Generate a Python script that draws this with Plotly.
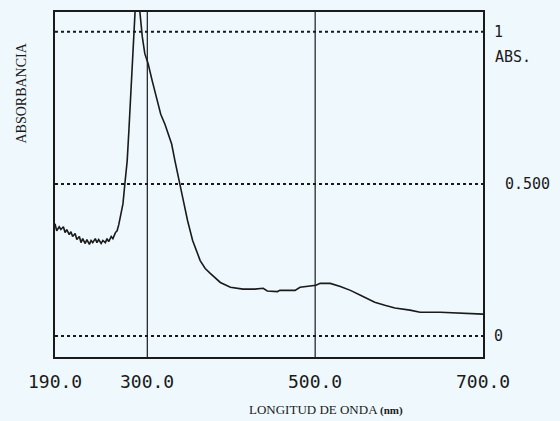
import plotly.graph_objects as go

# Spectrum data (wavelength nm, absorbance)
wavelength = [190, 192, 195, 197, 200, 202, 204, 207, 209, 211, 214, 216, 219, 221, 223, 226, 228, 231,
              233, 235, 238, 240, 242, 245, 247, 250, 252, 254, 257, 259, 262, 264, 266, 269, 271, 273,
              276, 278, 281, 283, 285, 287, 290, 294, 297, 301, 306, 312, 316, 321, 326, 329, 333, 337,
              339, 343, 348, 354, 363, 369, 375, 381, 387, 399, 414, 428, 438, 443, 455, 458, 476, 482,
              494, 501, 506, 518, 530, 542, 554, 563, 571, 583, 595, 613, 625, 649, 673, 685, 700]
absorbance = [0.369, 0.346, 0.359, 0.350, 0.359, 0.340, 0.350, 0.333, 0.343, 0.327, 0.337, 0.317, 0.327,
              0.307, 0.320, 0.304, 0.317, 0.301, 0.314, 0.307, 0.320, 0.307, 0.317, 0.304, 0.314, 0.307,
              0.320, 0.310, 0.327, 0.320, 0.340, 0.346, 0.366, 0.412, 0.435, 0.493, 0.575, 0.673, 0.837,
              0.984, 1.098, 1.150, 1.098, 0.984, 0.928, 0.895, 0.837, 0.771, 0.729, 0.696, 0.657, 0.631,
              0.575, 0.526, 0.493, 0.444, 0.379, 0.314, 0.248, 0.222, 0.206, 0.190, 0.176, 0.160, 0.154,
              0.154, 0.157, 0.148, 0.146, 0.150, 0.150, 0.160, 0.163, 0.167, 0.173, 0.173, 0.163, 0.150,
              0.134, 0.121, 0.111, 0.101, 0.092, 0.085, 0.078, 0.078, 0.075, 0.072, 0.072]

x_tick_vals = [190, 300, 500, 700]
x_tick_text = ["190.0", "300.0", "500.0", "700.0"]
grid_levels = [0, 0.5, 1]
vlines = [300, 500]

BG = "#eef8fd"
INK = "#1a1a1a"

fig = go.Figure()
fig.add_trace(go.Scatter(x=wavelength, y=absorbance, mode="lines",
                         line=dict(color=INK, width=1.6), hoverinfo="skip", showlegend=False))

for lv in grid_levels:
    fig.add_shape(type="line", xref="paper", x0=0, x1=1, yref="y", y0=lv, y1=lv,
                  line=dict(color=INK, width=2, dash="dot"), layer="below")
for v in vlines:
    fig.add_shape(type="line", xref="x", x0=v, x1=v, yref="paper", y0=0, y1=1,
                  line=dict(color=INK, width=1.2), layer="below")

mono = "DejaVu Sans Mono"
for v, t in zip(x_tick_vals, x_tick_text):
    fig.add_annotation(x=v, xref="x", y=0, yref="paper", yshift=-24, text=t, showarrow=False,
                       xanchor="center", yanchor="middle", font=dict(family=mono, size=18, color=INK))

right_labels = [("1", 1.0, 492), ("ABS.", 0.918, 493), ("0.500", 0.5, 503), ("0", 0.0, 492)]
for t, yv, px in right_labels:
    fig.add_annotation(x=(px - 55) / 428, xref="paper", y=yv, yref="y", text=t, showarrow=False,
                       xanchor="left", yanchor="middle", font=dict(family=mono, size=15, color=INK))

fig.add_annotation(x=(326 - 55) / 428, xref="paper", y=0, yref="paper", yshift=-52,
                   text="LONGITUD DE ONDA <b><span style='font-size:11px'>(nm)</span></b>",
                   showarrow=False, xanchor="center", yanchor="middle",
                   font=dict(family="Liberation Serif", size=13, color=INK))
fig.add_annotation(x=(22 - 55) / 428, xref="paper", y=(357 - 92) / 347, yref="paper",
                   text="ABSORBANCIA", textangle=-90, showarrow=False,
                   xanchor="center", yanchor="middle",
                   font=dict(family="Liberation Serif", size=14, color=INK))

fig.update_layout(
    width=560, height=421,
    margin=dict(l=55, r=77, t=10, b=64),
    paper_bgcolor=BG, plot_bgcolor=BG,
    xaxis=dict(range=[190, 700], showgrid=False, zeroline=False, showticklabels=False, ticks="",
               showline=True, mirror=True, linecolor=INK, linewidth=1.5),
    yaxis=dict(range=[-0.069, 1.065], showgrid=False, zeroline=False, showticklabels=False, ticks="",
               showline=True, mirror=True, linecolor=INK, linewidth=1.5),
)

fig.write_html("out.html", config={"displayModeBar": False},
               post_script="document.body.style.margin='0';document.body.style.overflow='hidden';"
                           "document.body.style.background='" + BG + "';")
